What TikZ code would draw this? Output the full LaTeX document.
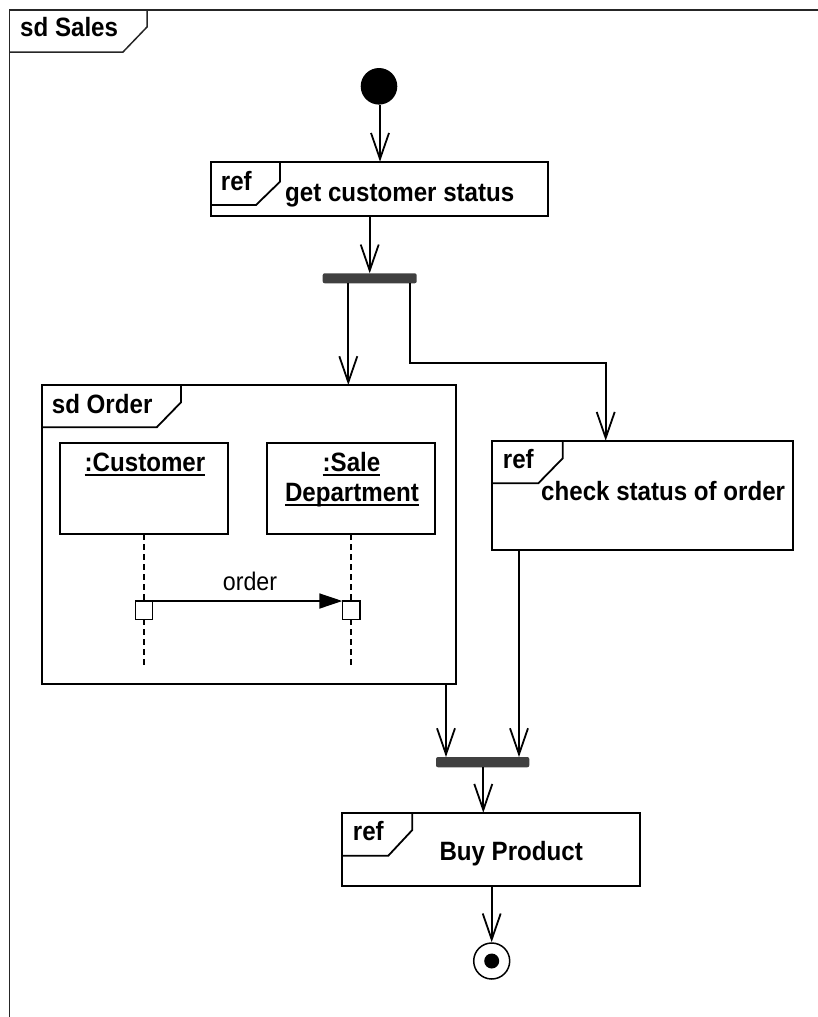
\documentclass[tikz,border=0pt]{standalone}
\usepackage{fontspec}
\setmainfont{Liberation Sans}[FakeStretch=0.91]
\usetikzlibrary{arrows.meta,calc}

% underlined object name with a fixed underline depth
\newcommand{\ulword}[1]{\setbox0\hbox{#1}\rlap{\rule[-4.5pt]{\wd0}{1.8pt}}\box0}

\tikzset{
  frameline/.style={line width=1.5pt, draw=black!85},
  boxline/.style={line width=1.8pt, draw=black},
  box/.style={boxline, fill=white, inner sep=0, outer sep=0},
  bar/.style={fill=black!75, rounded corners=2pt, inner sep=0, outer sep=0},
  lbl/.style={font=\fontsize{26.5}{30}\selectfont\bfseries, inner sep=0},
  msglbl/.style={font=\fontsize{25.5}{29}\selectfont, inner sep=0},
  flow/.style={line width=1.8pt, -{Straight Barb[length=26pt,width=18pt,line width=1.8pt]}},
  lifeline/.style={line width=1.5pt, dash pattern=on 6pt off 4pt},
  msg/.style={line width=1.8pt, -{Triangle[length=23pt,width=15pt]}},
}

\begin{document}
\begin{tikzpicture}[x=1pt,y=-1pt]
\useasboundingbox (0,0) rectangle (818,1017);

% enclosing frame "sd Sales" (open at right and bottom)
\draw[frameline] (818,10) -- (9.5,10) -- (9.5,1017);
\draw[frameline] (9.5,52) -- (123,52) -- (147,27) -- (147,10);
\node[lbl, anchor=base west] (tsales) at (20,36.7) {sd Sales};

% initial node
\node[circle, fill=black, minimum size=36.6pt, inner sep=0] (start) at (379,86.3) {};

% ref: get customer status
\node[box, minimum width=336.7pt, minimum height=54.3pt] (gcs) at (379.35,188.85) {};
\draw[boxline] (211,205) -- (256,205) -- (280,181.7) -- (280,161.7);
\node[lbl, anchor=base west] (gcsref) at (220.7,190) {ref};
\node[lbl, anchor=base west] (gcstxt) at (285,201.7) {get customer status};

% fork bar
\node[bar, minimum width=94pt, minimum height=10pt] (fork) at (369.7,278.3) {};

% sd Order interaction
\node[box, minimum width=414pt, minimum height=299.3pt] (order) at (248.7,534.65) {};
\draw[boxline] (41.7,427.3) -- (156.7,427.3) -- (181,402.3) -- (181,385);
\node[lbl, anchor=base west] (tord) at (51.7,413) {sd Order};

\node[box, minimum width=167.7pt, minimum height=91.6pt] (cust) at (143.85,488.5) {};
\node[box, minimum width=168.3pt, minimum height=91.6pt] (sale) at (350.85,488.5) {};
\node[lbl, anchor=base] (custtxt) at (145,471) {\ulword{:Customer}};
\node[lbl, anchor=base] (saletxt1) at (351.5,471) {\ulword{:Sale}};
\node[lbl, anchor=base] (saletxt2) at (352,501.5) {\ulword{Department}};

\node[box, line width=1.5pt, minimum width=17.4pt, minimum height=18.3pt] (act1) at (144,610.15) {};
\node[box, line width=1.5pt, minimum width=17.7pt, minimum height=18.3pt] (act2) at (351.15,610.15) {};
\coordinate (custend) at (144,665);
\coordinate (saleend) at (351.15,665);
\draw[lifeline] (cust.south -| act1.north) -- (act1.north);
\draw[lifeline] (act1.south) -- (custend);
\draw[lifeline] (sale.south -| act2.north) -- (act2.north);
\draw[lifeline] (act2.south) -- (saleend);
\draw[msg] (act1.north east) -- (act2.north west);
\node[msglbl, anchor=base] (msgtxt) at (250,590.7) {order};

% ref: check status of order
\node[box, minimum width=301pt, minimum height=109.3pt] (check) at (642.8,495.35) {};
\draw[boxline] (492.3,483.3) -- (538.3,483.3) -- (562.7,458.3) -- (562.7,440.7);
\node[lbl, anchor=base west] (checkref) at (502.7,468) {ref};
\node[lbl, anchor=base west] (checktxt) at (541,500) {check status of order};

% join bar
\node[bar, minimum width=93.3pt, minimum height=10.3pt] (join) at (482.65,762.15) {};

% ref: Buy Product
\node[box, minimum width=298.3pt, minimum height=73.3pt] (buy) at (490.85,849.35) {};
\draw[boxline] (341.7,855.7) -- (388.3,855.7) -- (412.3,830) -- (412.3,812.7);
\node[lbl, anchor=base west] (buyref) at (352.7,840.7) {ref};
\node[lbl, anchor=base west] (buytxt) at (439.3,860) {Buy Product};

% final node
\node[circle, boxline, line width=1.5pt, fill=white, minimum size=36pt, inner sep=0] (final) at (491.7,961) {};
\node[circle, fill=black, minimum size=15pt, inner sep=0] (finaldot) at (final.center) {};

% control flow
\coordinate (f1) at (348.3,283.3);
\coordinate (f2) at (410,283.3);
\coordinate (bend) at (410,362.7);
\coordinate (chkin) at (605.7,440.7);
\coordinate (j1) at (446,757);
\coordinate (j2) at (519,757);
\draw[flow] (start.south -| 380,0) -- (gcs.north -| 380,0);
\draw[flow] (gcs.south -| fork.north) -- (fork.north);
\draw[flow] (f1) -- (f1 |- order.north);
\draw[flow] (f2) -- (bend) -- (bend -| chkin) -- (chkin);
\draw[flow] (order.south -| j1) -- (j1);
\draw[flow] (check.south -| j2) -- (j2);
\draw[flow] (join.south -| 483.3,0) -- (buy.north -| 483.3,0);
\draw[flow] (buy.south -| final.north) -- (final.north);
\end{tikzpicture}
\end{document}
